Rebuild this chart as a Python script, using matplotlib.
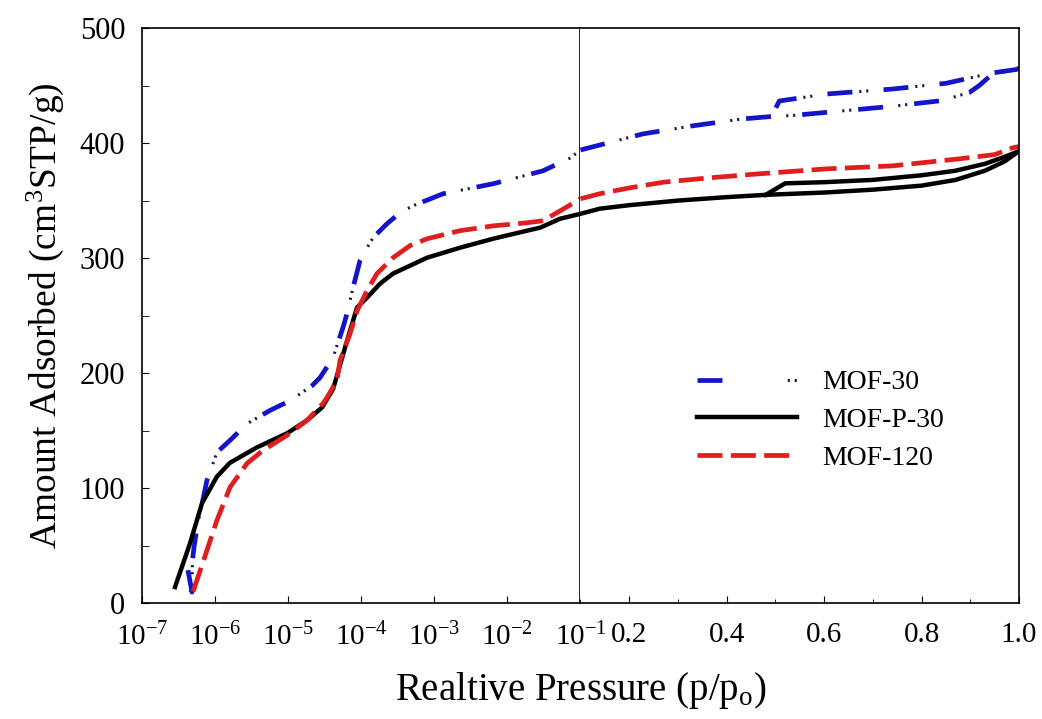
import numpy as np
import matplotlib
matplotlib.use("Agg")
import matplotlib.pyplot as plt
from matplotlib.ticker import NullLocator, MultipleLocator
from matplotlib.legend_handler import HandlerTuple

plt.rcParams['font.family'] = ['Liberation Serif', 'DejaVu Serif']
plt.rcParams['mathtext.fontset'] = 'custom'
plt.rcParams['mathtext.rm'] = 'Liberation Serif'
plt.rcParams['mathtext.default'] = 'regular'
plt.rcParams['lines.scale_dashes'] = False

# MOF-30 (blue), adsorption branch
mof30_p = [4.25e-7, 4.83e-7, 4.9e-7, 5.15e-7, 5.66e-7, 7.75e-7, 1.06e-6, 1.6e-6, 2.74e-6,
           5.64e-6, 1.06e-5, 2.12e-5, 2.73e-5, 4.11e-5, 5.62e-5, 6.38e-5, 7.7e-5, 9.6e-5,
           1.2e-4, 1.45e-4, 2.25e-4, 3.39e-4, 5.1e-4, 1.31e-3, 6.35e-3, 3.07e-2, 7.2e-2,
           0.1, 0.228, 0.33, 0.432, 0.488, 0.535, 0.637, 0.74, 0.842, 0.898, 0.918, 0.945, 0.994, 1.0]
mof30_q = [28.6, 9.5, 37.3, 48.6, 66, 106.8, 131, 141.5, 156,
           167.5, 176, 189, 196, 213.5, 239.6, 251.7, 274, 297.7,
           309, 317.7, 329.9, 339.4, 345.5, 355.9, 364.6, 375.9, 387,
           394, 408, 415, 421, 423, 424, 428, 432, 437, 444, 450, 460, 464, 465]
# MOF-30 desorption branch
mof30_des_p = [1.0, 0.994, 0.945, 0.85, 0.74, 0.605, 0.508, 0.50, 0.488]
mof30_des_q = [465, 464, 461, 452, 447, 442.7, 436.6, 430, 423]

# MOF-P-30 (black)
mofp30_p = [2.83e-7, 4.54e-7, 6.62e-7, 1.06e-6, 1.6e-6, 3.75e-6, 9.64e-6, 1.81e-5, 2.9e-5,
            4.11e-5, 6.38e-5, 8.75e-5, 1.2e-4, 1.81e-4, 2.72e-4, 7.94e-4, 2.24e-3, 6.35e-3,
            1.85e-2, 2.79e-2, 5.25e-2, 0.1, 0.14, 0.2, 0.3, 0.4, 0.48, 0.6, 0.7, 0.8, 0.87,
            0.93, 0.97, 1.0]
mofp30_q = [13.9, 52, 86.8, 110, 122, 135.4, 147.6, 158.9, 170,
            186, 228, 257, 265.6, 277.8, 286.5, 300.3, 309, 316.8,
            323.8, 326.4, 334.2, 338.5, 343, 346, 350, 353, 355, 357, 359.5, 363, 368,
            376, 384, 393]
mofp30_des_p = [1.0, 0.97, 0.93, 0.87, 0.8, 0.7, 0.6, 0.52, 0.5, 0.48]
mofp30_des_q = [393, 388, 382, 376, 372, 368, 366, 365, 360, 355]

# MOF-120 (red)
mof120_p = [5.0e-7, 7.75e-7, 1.06e-6, 1.6e-6, 2.74e-6, 4.53e-6, 9.64e-6, 1.81e-5, 3.0e-5,
            3.4e-5, 4.65e-5, 5.12e-5, 7.0e-5, 8.75e-5, 1.2e-4, 1.64e-4, 2.72e-4, 4.64e-4,
            7.94e-4, 2.24e-3, 6.35e-3, 1.85e-2, 3.07e-2, 5.25e-2, 0.1, 0.14, 0.2, 0.27,
            0.365, 0.467, 0.605, 0.74, 0.877, 0.95, 0.986, 1.0]
mof120_q = [10, 46, 72, 100.7, 121.5, 132.8, 145.8, 158.9, 173.6,
            178.8, 193.6, 211, 234, 254, 271.7, 286.5, 300.3, 310.8,
            316.8, 323.8, 328, 330.7, 332.5, 341, 351.6, 356, 361, 366,
            369.8, 373.3, 377.6, 380.2, 386.3, 390, 395.8, 397]

log_ticks = [1e-7, 1e-6, 1e-5, 1e-4, 1e-3, 1e-2, 1e-1]
log_labels = ['10$^{-7}$', '10$^{-6}$', '10$^{-5}$', '10$^{-4}$', '10$^{-3}$', '10$^{-2}$', '10$^{-1}$']
lin_ticks = [0.2, 0.4, 0.6, 0.8, 1.0]

blue = '#1414c8'
navy = '#141450'
red = '#e01e1e'

fig = plt.figure(figsize=(10.42, 7.19), dpi=100)
ax1 = fig.add_axes([0.1363, 0.1613, 0.4208, 0.7996])
ax2 = fig.add_axes([0.5571, 0.1613, 0.4209, 0.7996])

# dash-dot-dot for MOF-30: thick dash plus two small dots in the gap
blue_dash = (0, (18, 22.5))
blue_dots = (0, (0, 29, 1.5, 3.5, 1.5, 5))
red_dash = (0, (18, 6))


def split(p, q, left):
    p = np.asarray(p)
    q = np.asarray(q)
    m = p <= 0.1 if left else p >= 0.1
    return p[m], q[m]


for ax, left in ((ax1, True), (ax2, False)):
    for p, q in ((mof30_p, mof30_q), (mof30_des_p, mof30_des_q)):
        pp, qq = split(p, q, left)
        if len(pp) > 1:
            lb, = ax.plot(pp, qq, color=blue, lw=3.4, linestyle=blue_dash, dash_capstyle='butt')
            ld, = ax.plot(pp, qq, color=navy, lw=2.2, linestyle=blue_dots, dash_capstyle='butt')
    for p, q in ((mofp30_p, mofp30_q), (mofp30_des_p, mofp30_des_q)):
        pp, qq = split(p, q, left)
        if len(pp) > 1:
            lk, = ax.plot(pp, qq, color='black', lw=3.2)
    pp, qq = split(mof120_p, mof120_q, left)
    lr, = ax.plot(pp, qq, color=red, lw=3.4, linestyle=red_dash, dash_capstyle='butt')

for ax in (ax1, ax2):
    ax.set_ylim(0, 500)
    for s in ax.spines.values():
        s.set_linewidth(1.2)
    ax.tick_params(direction='in', labelsize=21, pad=14, length=5)
    ax.tick_params(which='minor', direction='in', length=3)

ax1.set_xscale('log')
ax1.set_xlim(1e-7, 1e-1)
ax1.set_xticks(log_ticks)
ax1.set_xticklabels(log_labels)
ax1.xaxis.set_minor_locator(NullLocator())
ax1.yaxis.set_major_locator(MultipleLocator(100))
ax1.yaxis.set_minor_locator(MultipleLocator(50))
ax1.tick_params(axis='y', which='both', length=5, pad=12, labelsize=22)

ax2.set_xlim(0.1, 1.0)
ax2.set_xticks(lin_ticks)
ax2.set_xticklabels(['%.1f' % t for t in lin_ticks])
ax2.xaxis.set_minor_locator(MultipleLocator(0.1))
ax2.spines['left'].set_visible(False)
ax2.set_yticks([])

ax1.set_ylabel('Amount Adsorbed (cm$^3$STP/g)', fontsize=27, labelpad=10)
fig.text(0.557, 0.040, 'Realtive Pressure (p/p$_o$)', fontsize=28, ha='center', va='center')

leg = ax2.legend([(lb, ld), lk, lr], ['MOF-30', 'MOF-P-30', 'MOF-120'],
                 handler_map={tuple: HandlerTuple(ndivide=None)},
                 loc='upper left', bbox_to_anchor=(0.656, 0.505), bbox_transform=fig.transFigure,
                 frameon=False, fontsize=20, handlelength=3.6, handletextpad=0.9,
                 labelspacing=0.45, borderpad=0)

fig.savefig('out.png', dpi=100)
